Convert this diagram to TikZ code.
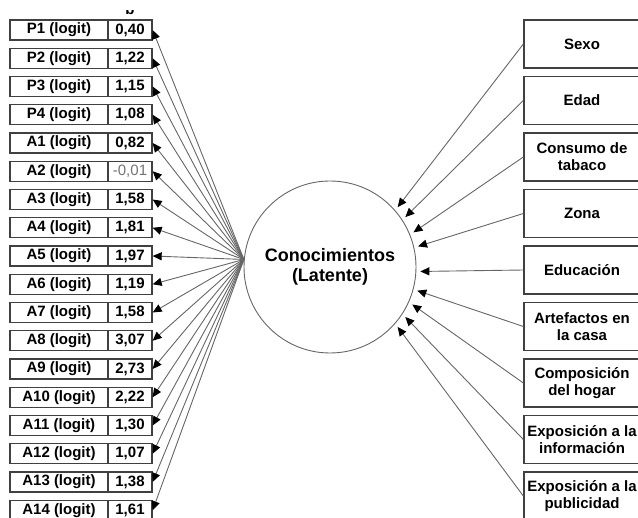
\documentclass[tikz,border=0pt]{standalone}
\usepackage{fontspec}
\setmainfont{Liberation Sans}
\usetikzlibrary{arrows.meta}

\tikzset{
  lbl/.style={draw=black!75,line width=1.3pt,minimum width=98pt,minimum height=20pt,inner sep=0pt,font=\fontsize{15}{17}\selectfont\bfseries},
  val/.style={draw=black!75,line width=1.3pt,minimum width=44pt,minimum height=20pt,inner sep=0pt,font=\fontsize{15}{17}\selectfont\bfseries},
  cause/.style={draw=black!75,line width=1.3pt,minimum width=116pt,minimum height=48pt,inner sep=0pt,align=center,font=\fontsize{15}{17}\selectfont\bfseries},
  latent/.style={circle,draw=black!60,line width=0.9pt,minimum size=172pt,inner sep=0pt,align=center,font=\fontsize{18}{20}\selectfont\bfseries},
  link/.style={draw=black!60,line width=0.9pt}
}

\begin{document}
\begin{tikzpicture}[x=1pt,y=-1pt,>={Triangle[length=9pt,width=8pt,color=black]}]
	\useasboundingbox (0,0) rectangle (638,518);
	
	\node[latent] (know) at (330,267) {Conocimientos\\(Latente)};
	
	% column head, cut by the top edge
	\begin{scope}
	\clip (100,11) rectangle (160,20);
	\node[anchor=base,font=\fontsize{15}{17}\selectfont\bfseries] (bhead) at (130,15) {b};
	\end{scope}
	
	\node[lbl] (p1) at (59,30) {P1 (logit)};
	\node[val] (v1) at (130,30) {0,40};
	\node[lbl] (p2) at (59,58.25) {P2 (logit)};
	\node[val] (v2) at (130,58.25) {1,22};
	\node[lbl] (p3) at (59,86.5) {P3 (logit)};
	\node[val] (v3) at (130,86.5) {1,15};
	\node[lbl] (p4) at (59,114.75) {P4 (logit)};
	\node[val] (v4) at (130,114.75) {1,08};
	\node[lbl] (a1) at (59,143) {A1 (logit)};
	\node[val] (w1) at (130,143) {0,82};
	\node[lbl] (a2) at (59,171.25) {A2 (logit)};
	\node[val] (w2) at (130,171.25) {\mdseries\color{black!55}-0,01};
	\node[lbl] (a3) at (59,199.5) {A3 (logit)};
	\node[val] (w3) at (130,199.5) {1,58};
	\node[lbl] (a4) at (59,227.75) {A4 (logit)};
	\node[val] (w4) at (130,227.75) {1,81};
	\node[lbl] (a5) at (59,256) {A5 (logit)};
	\node[val] (w5) at (130,256) {1,97};
	\node[lbl] (a6) at (59,284.25) {A6 (logit)};
	\node[val] (w6) at (130,284.25) {1,19};
	\node[lbl] (a7) at (59,312.5) {A7 (logit)};
	\node[val] (w7) at (130,312.5) {1,58};
	\node[lbl] (a8) at (59,340.75) {A8 (logit)};
	\node[val] (w8) at (130,340.75) {3,07};
	\node[lbl] (a9) at (59,369) {A9 (logit)};
	\node[val] (w9) at (130,369) {2,73};
	\node[lbl] (a10) at (59,397.25) {A10 (logit)};
	\node[val] (w10) at (130,397.25) {2,22};
	\node[lbl] (a11) at (59,425.5) {A11 (logit)};
	\node[val] (w11) at (130,425.5) {1,30};
	\node[lbl] (a12) at (59,453.75) {A12 (logit)};
	\node[val] (w12) at (130,453.75) {1,07};
	\node[lbl] (a13) at (59,482) {A13 (logit)};
	\node[val] (w13) at (130,482) {1,38};
	\node[lbl] (a14) at (59,510.25) {A14 (logit)};
	\node[val] (w14) at (130,510.25) {1,61};
	
	\draw[link,->] (know.175) -- (v1.east);
	\draw[link,->] (know.175) -- (v2.east);
	\draw[link,->] (know.175) -- (v3.east);
	\draw[link,->] (know.175) -- (v4.east);
	\draw[link,->] (know.175) -- (w1.east);
	\draw[link,->] (know.175) -- (w2.east);
	\draw[link,->] (know.175) -- (w3.east);
	\draw[link,->] (know.175) -- (w4.east);
	\draw[link,->] (know.175) -- (w5.east);
	\draw[link,->] (know.175) -- (w6.east);
	\draw[link,->] (know.175) -- (w7.east);
	\draw[link,->] (know.175) -- (w8.east);
	\draw[link,->] (know.175) -- (w9.east);
	\draw[link,->] (know.175) -- (w10.east);
	\draw[link,->] (know.175) -- (w11.east);
	\draw[link,->] (know.175) -- (w12.east);
	\draw[link,->] (know.175) -- (w13.east);
	\draw[link,->] (know.175) -- (w14.east);
	
	\node[cause] (sexo) at (582,44) {Sexo};
	\node[cause] (edad) at (582,100.5) {Edad};
	\node[cause] (tabaco) at (582,157) {Consumo de\\tabaco};
	\node[cause] (zona) at (582,213.5) {Zona};
	\node[cause] (educ) at (582,270) {Educación};
	\node[cause] (artef) at (582,326.5) {Artefactos en\\la casa};
	\node[cause] (hogar) at (582,383) {Composición\\del hogar};
	\node[cause] (info) at (582,439.5) {Exposición a la\\información};
	\node[cause] (publi) at (582,496) {Exposición a la\\publicidad};
	
	\draw[link,->,shorten >=4pt] (sexo.west) -- (know.41);
	\draw[link,->,shorten >=4pt] (edad.west) -- (know.33);
	\draw[link,->,shorten >=4pt] (tabaco.west) -- (know.22);
	\draw[link,->,shorten >=4pt] (zona.west) -- (know.13);
	\draw[link,->,shorten >=4pt] (educ.west) -- (know.-3);
	\draw[link,->,shorten >=4pt] (artef.west) -- (know.-15);
	\draw[link,->,shorten >=4pt] (hogar.west) -- (know.-24);
	\draw[link,->,shorten >=4pt] (info.west) -- (know.-33);
	\draw[link,->,shorten >=4pt] (publi.west) -- (know.-41);
	
\end{tikzpicture}
\end{document}
